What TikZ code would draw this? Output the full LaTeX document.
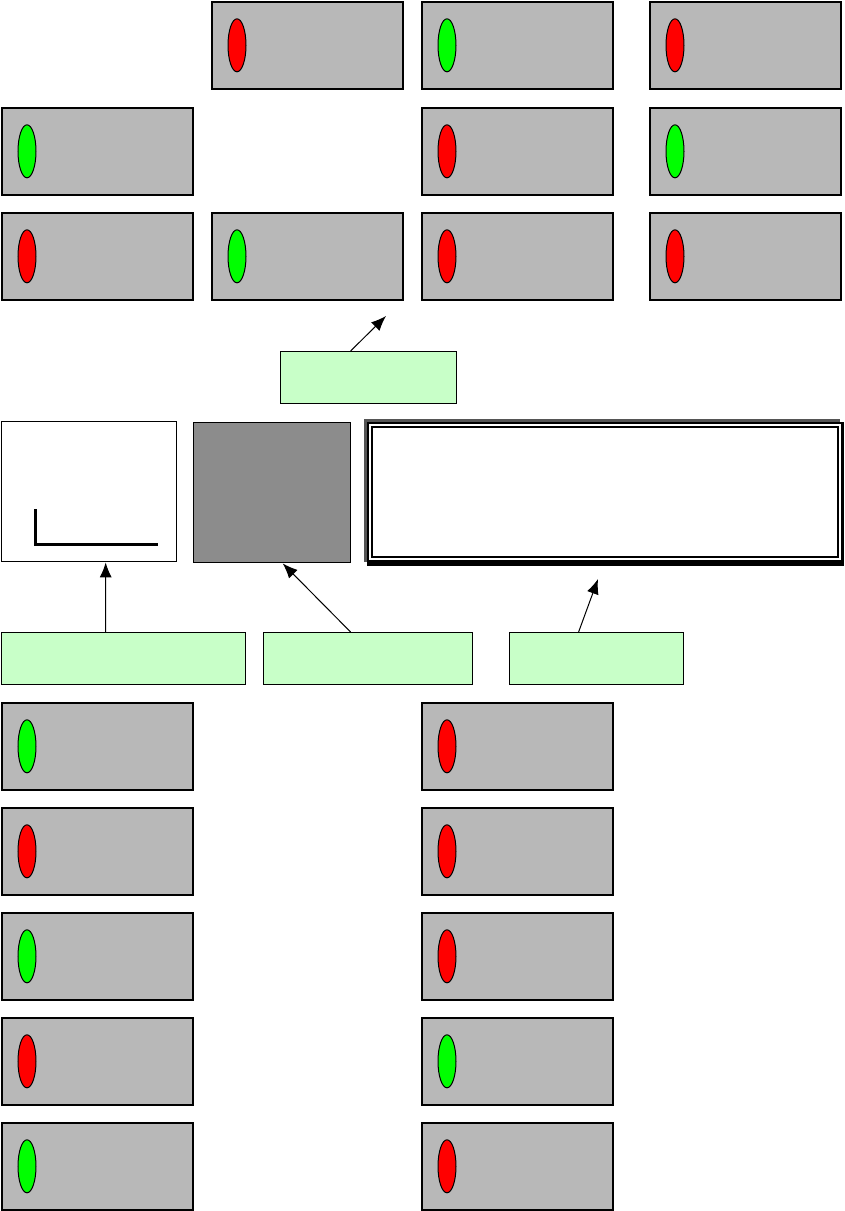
\documentclass[tikz,border=0pt]{standalone}
\usetikzlibrary{arrows.meta, shapes.geometric}
\definecolor{panel-grey}{HTML}{B8B8B8}
\definecolor{dark-grey}{HTML}{8C8C8C}
\definecolor{edge-grey}{HTML}{555555}
\definecolor{tag-green}{HTML}{C8FFC8}
\definecolor{lamp-red}{HTML}{FF0000}
\definecolor{lamp-green}{HTML}{00FF00}

\begin{document}
\begin{tikzpicture}[x=1pt, y=-1pt,
        panel/.style={draw, line width=1.6pt, fill=panel-grey, anchor=north west,
            minimum width=191pt, minimum height=87pt, inner sep=0pt},
        lamp/.style={draw, ellipse, line width=1pt, minimum width=18pt,
            minimum height=53pt, inner sep=0pt},
        tag/.style={draw, line width=1.2pt, fill=tag-green, anchor=north west,
            minimum height=52pt, inner sep=0pt},
        ptr/.style={-{Latex[length=15pt, width=12pt]}, line width=1pt}]
      \useasboundingbox (0,0) rectangle (844,1211);
      % indicator panels
      \foreach \nm/\x/\y/\c in {p12/211/1/lamp-red, p13/421/1/lamp-green, p14/649/1/lamp-red,
          p21/1/107/lamp-green, p23/421/107/lamp-red, p24/649/107/lamp-green,
          p31/1/212/lamp-red, p32/211/212/lamp-green, p33/421/212/lamp-red, p34/649/212/lamp-red,
          q11/1/702/lamp-green, q13/421/702/lamp-red,
          q21/1/807/lamp-red, q23/421/807/lamp-red,
          q31/1/912/lamp-green, q33/421/912/lamp-red,
          q41/1/1017/lamp-red, q43/421/1017/lamp-green,
          q51/1/1122/lamp-green, q53/421/1122/lamp-red}{
        \node[panel] (\nm) at (\x,\y) {};
        \node[lamp, fill=\c] (\nm-lamp) at ([xshift=26pt]\nm.west) {};
      }
      % middle row
      \node[draw, line width=1.4pt, fill=white, anchor=north west, inner sep=0pt,
            minimum width=175pt, minimum height=140pt] (scope) at (1,421) {};
      \draw[line width=3pt] (35,509) -- (35,544) -- (158,544);
      \node[draw, line width=1.4pt, fill=dark-grey, anchor=north west, inner sep=0pt,
            minimum width=157pt, minimum height=140pt] (shade) at (193,422) {};
      \fill[edge-grey] (364,419) rectangle (840,562);
      \fill[black] (367,422) rectangle (844,566);
      \node[fill=white, anchor=north west, inner sep=0pt,
            minimum width=472pt, minimum height=136pt] (display) at (369,424) {};
      \draw[line width=2pt] (372,427) rectangle (838,557);
      % labels
      \node[tag, minimum width=176pt] (tagT) at (280,351) {};
      \node[tag, minimum width=244pt] (tagA) at (1,632) {};
      \node[tag, minimum width=209pt] (tagB) at (263,632) {};
      \node[tag, minimum width=174pt] (tagC) at (509,632) {};
      \coordinate (endT) at (386,316);
      \coordinate (endC) at (598,579);
      \draw[ptr] ([xshift=-18pt]tagT.north) -- (endT);
      \draw[ptr] ([xshift=-18pt]tagA.north) -- ([xshift=16.5pt]scope.south);
      \draw[ptr] ([xshift=-17.5pt]tagB.north) -- ([xshift=10.5pt]shade.south);
      \draw[ptr] ([xshift=-18pt]tagC.north) -- (endC);
    \end{tikzpicture}
\end{document}
